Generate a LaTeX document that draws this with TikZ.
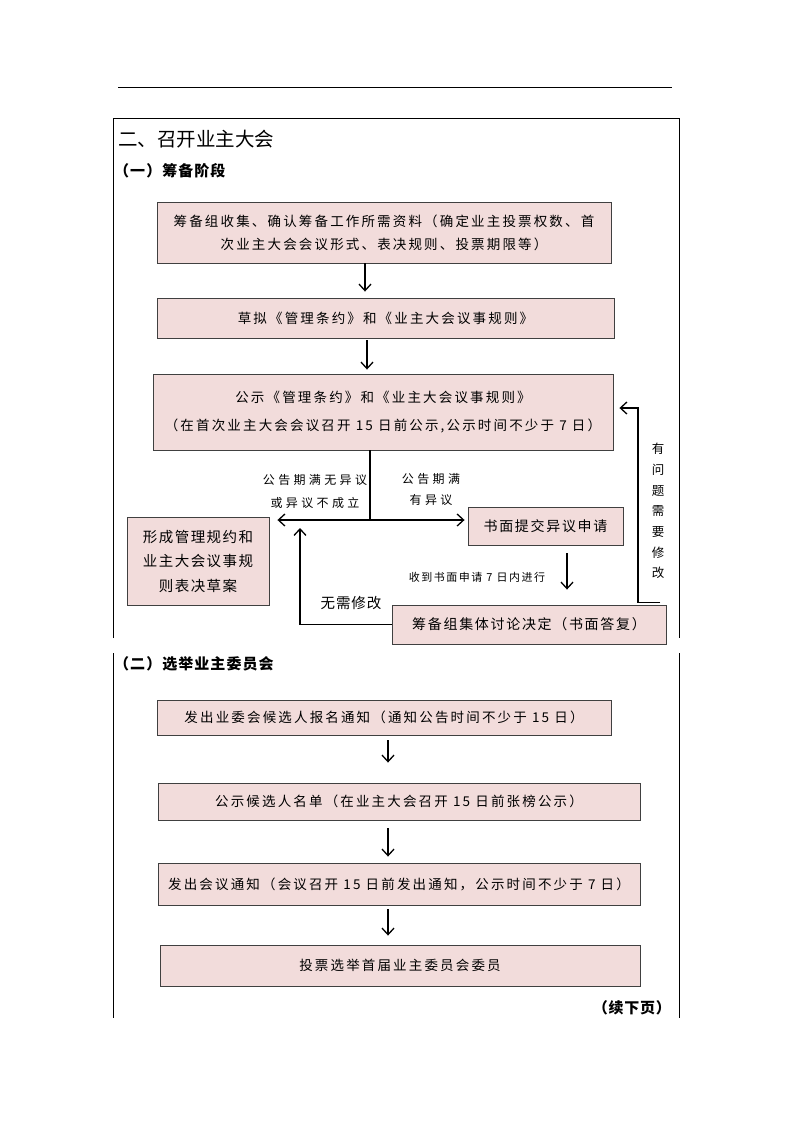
\documentclass[tikz,border=0pt]{standalone}
\usepackage{fontspec}
\setmainfont{Noto Sans CJK SC}
\usetikzlibrary{arrows.meta,calc}
\definecolor{boxfill}{HTML}{F2DCDB}
\definecolor{boxline}{HTML}{404040}
\begin{document}
\begin{tikzpicture}[x=1pt,y=-1pt,
  pbox/.style={draw=boxline, line width=0.9pt, fill=boxfill, inner sep=0pt, align=center,
    font=\fontsize{13.5}{23}\selectfont\addfontfeature{LetterSpace=16}},
  lbl/.style={inner sep=0pt, align=center,
    font=\fontsize{11.5}{22}\selectfont\addfontfeature{LetterSpace=30}},
  arr/.style={-{Straight Barb[length=6.5pt,width=12pt,line width=1.3pt]}, line width=1.3pt},
  ln/.style={line width=1.3pt},
  frameline/.style={line width=0.9pt},
  head/.style={inner sep=0pt, anchor=west, font=\fontsize{15}{18}\selectfont\bfseries\addfontfeature{LetterSpace=7}}
]
\useasboundingbox (0,0) rectangle (793,1122);

% rules and frames
\draw[line width=0.8pt] (118,87) -- (672,87);
\draw[frameline] (113,638) -- (113,118) -- (679,118) -- (679,638);
\draw[frameline] (113,653) -- (113,1018);
\draw[frameline] (679,653) -- (679,1018);

% headings
\node[inner sep=0pt, anchor=west, font=\fontsize{19.5}{22}\selectfont] (title) at (118,139) {二、召开业主大会};
\node[head] (h1) at (114,171) {（一）筹备阶段};
\node[head] (h2) at (114,664) {（二）选举业主委员会};
\node[inner sep=0pt, anchor=east, font=\fontsize{15}{18}\selectfont\bfseries\addfontfeature{LetterSpace=5}] (cont) at (671,1008) {（续下页）};

% part one boxes
\node[pbox, minimum width=454pt, minimum height=61pt] (b1) at (384,232.5)
  {筹备组收集、确认筹备工作所需资料（确定业主投票权数、首\\次业主大会会议形式、表决规则、投票期限等）};
\node[pbox, minimum width=457pt, minimum height=40pt] (b2) at (385.5,318)
  {草拟《管理条约》和《业主大会议事规则》};
\node[pbox, minimum width=460pt, minimum height=76pt, font=\fontsize{13.5}{28}\selectfont\addfontfeature{LetterSpace=16}] (b3) at (383,412)
  {公示《管理条约》和《业主大会议事规则》\\（在首次业主大会会议召开 15 日前公示,公示时间不少于 7 日）};
\node[pbox, minimum width=142pt, minimum height=88pt, font=\fontsize{14.5}{24.5}\selectfont\addfontfeature{LetterSpace=10}] (bL) at (198,561)
  {形成管理规约和\\业主大会议事规\\则表决草案};
\node[pbox, minimum width=155pt, minimum height=38pt, font=\fontsize{14}{18}\selectfont\addfontfeature{LetterSpace=12}] (bR) at (545.5,526)
  {书面提交异议申请};
\node[pbox, minimum width=274pt, minimum height=39pt, font=\fontsize{14}{18}\selectfont\addfontfeature{LetterSpace=12}] (bE) at (529,624.5)
  {筹备组集体讨论决定（书面答复）};

% part one connectors
\draw[arr, shorten >=6pt] ([xshift=-19pt]b1.south) -- ([xshift=-20.5pt]b2.north);
\draw[arr, shorten <=2pt, shorten >=4pt] ([xshift=-18.5pt]b2.south) -- ([xshift=-16pt]b3.north);
\coordinate (j) at (370,520);
\draw[ln] ([xshift=-13pt]b3.south) -- (j);
\draw[arr, shorten >=8pt] (j) -- (bL.east |- j);
\draw[arr, shorten >=3pt] (j) -- (bR.west |- j);
\draw[arr, shorten <=8pt, shorten >=15pt] ([xshift=21.5pt]bR.south) -- ([xshift=38pt]bE.north);
\coordinate (ret) at (300,528);
\draw[arr] (bE.west) -| (ret);
\coordinate (fb) at (638,408);
\draw[arr] ([xshift=-6pt,yshift=2pt]bE.north east) -| (fb) -- ([xshift=6pt,yshift=4pt]b3.east);

% part one labels
\node[lbl, font=\fontsize{12}{23}\selectfont\addfontfeature{LetterSpace=28}] (l1) at (315,491.5) {公告期满无异议\\或异议不成立};
\node[lbl, font=\fontsize{12}{21}\selectfont\addfontfeature{LetterSpace=28}] (l2) at (431,489.5) {公告期满\\有异议};
\node[lbl, font=\fontsize{11}{14}\selectfont\addfontfeature{LetterSpace=14}] (l3) at (477,577) {收到书面申请 7 日内进行};
\node[lbl, font=\fontsize{14.5}{16}\selectfont\addfontfeature{LetterSpace=6}] (l4) at (351,603) {无需修改};
\node[lbl, font=\fontsize{12.5}{20.7}\selectfont] (l5) at (658,511) {有\\问\\题\\需\\要\\修\\改};

% part two boxes
\node[pbox, minimum width=454pt, minimum height=35pt] (bA) at (384,717.5)
  {发出业委会候选人报名通知（通知公告时间不少于 15 日）};
\node[pbox, minimum width=482pt, minimum height=37pt] (bB) at (399,801.5)
  {公示候选人名单（在业主大会召开 15 日前张榜公示）};
\node[pbox, minimum width=482pt, minimum height=42pt] (bC) at (399,884)
  {发出会议通知（会议召开 15 日前发出通知，公示时间不少于 7 日）};
\node[pbox, minimum width=480pt, minimum height=41pt] (bD) at (400,965.5)
  {投票选举首届业主委员会委员};

% part two connectors
\draw[arr, shorten <=5pt, shorten >=20pt] ([xshift=4pt]bA.south) -- ([xshift=-11pt]bB.north);
\draw[arr, shorten <=8pt, shorten >=6pt] ([xshift=-11pt]bB.south) -- ([xshift=-11pt]bC.north);
\draw[arr, shorten <=4pt, shorten >=9pt] ([xshift=-11pt]bC.south) -- ([xshift=-12pt]bD.north);
\end{tikzpicture}
\end{document}
